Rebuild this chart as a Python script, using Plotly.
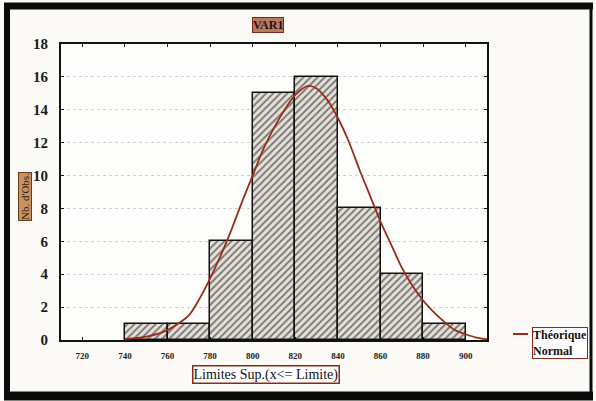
import plotly.graph_objects as go

# ---- data ----
bin_centers = [750, 770, 790, 810, 830, 850, 870, 890]
counts = [1, 1, 6, 15, 16, 8, 4, 1]
bin_width = 20

curve_x = [740, 750, 760, 770, 775, 780, 785, 790, 795, 800, 805, 810, 815, 820, 826,
           830, 835, 840, 845, 850, 855, 860, 865, 870, 875, 880, 885, 890, 895, 900, 905, 910]
curve_y = [0.05, 0.2, 0.6, 1.5, 2.5, 3.75, 5.15, 6.7, 8.4, 10.0, 11.6, 12.9, 14.0, 14.9, 15.45,
           15.3, 14.6, 13.5, 12.1, 10.4, 8.8, 7.2, 5.8, 4.4, 3.3, 2.4, 1.7, 1.1, 0.6, 0.35, 0.15, 0.05]

x_ticks = [720, 740, 760, 780, 800, 820, 840, 860, 880, 900]
y_ticks = [0, 2, 4, 6, 8, 10, 12, 14, 16, 18]

curve_color = "#9a2c1c"
serif = "Liberation Serif"

fig = go.Figure()
fig.add_trace(go.Bar(
    x=bin_centers, y=counts, width=bin_width,
    marker=dict(color="#e4e0d8",
                line=dict(color="#111111", width=1.5),
                pattern=dict(shape="/", fgcolor="#111111", bgcolor="#e6e2da",
                             size=5, solidity=0.4)),
    showlegend=False, hoverinfo="skip"))
fig.add_trace(go.Scatter(
    x=curve_x, y=curve_y, mode="lines",
    line=dict(color=curve_color, width=1.8, shape="spline", smoothing=0.8),
    showlegend=False, hoverinfo="skip"))

L, R, T, B = 61, 109, 44, 61
W, H = 596, 401
pw, ph = W - L - R, H - T - B

def px(xp):
    return (xp - L) / pw

def py(yp):
    return (H - B - yp) / ph

def hline(x0, x1, y, w, color="#0a0a0a"):
    return dict(type="line", xref="paper", yref="paper",
                x0=px(x0), x1=px(x1), y0=py(y), y1=py(y),
                line=dict(color=color, width=w), layer="above")

def vline(x, y0, y1, w, color="#0a0a0a"):
    return dict(type="line", xref="paper", yref="paper",
                x0=px(x), x1=px(x), y0=py(y0), y1=py(y1),
                line=dict(color=color, width=w), layer="above")

fig.update_layout(
    width=W, height=H,
    margin=dict(l=L, r=R, t=T, b=B),
    paper_bgcolor="#fbfaf7", plot_bgcolor="#fdfdfb",
    bargap=0,
    font=dict(family=serif, color="#111111"),
    xaxis=dict(range=[710, 910], tickvals=x_ticks, ticktext=[str(v) for v in x_ticks],
               ticks="inside", ticklen=3, tickcolor="#111111", mirror="ticks",
               showline=True, linecolor="#111111", linewidth=2,
               showgrid=False, zeroline=False,
               tickfont=dict(family=serif, size=9, color="#222222", weight="bold"),
               ticklabelstandoff=6),
    yaxis=dict(range=[0, 18], tickvals=y_ticks,
               ticks="inside", ticklen=3, tickcolor="#111111", mirror="ticks",
               showline=True, linecolor="#111111", linewidth=2,
               showgrid=True, gridcolor="#cfcfcf", griddash="dot", gridwidth=1,
               zeroline=False,
               tickfont=dict(family=serif, size=15, color="#1a1a1a", weight="bold"),
               ticklabelstandoff=8),
    shapes=[
        hline(4, 593, 6, 7),
        hline(4, 593, 396, 9),
        vline(7, 3, 400, 6),
        vline(591, 3, 400, 3),
        dict(type="line", xref="paper", yref="paper",
             x0=px(513), x1=px(528), y0=py(334), y1=py(334),
             line=dict(color=curve_color, width=2)),
    ],
    annotations=[
        dict(text="<b>VAR1</b>", xref="paper", yref="paper", x=px(268), y=py(25),
             xanchor="center", yanchor="middle",
             showarrow=False, font=dict(family=serif, size=12, color="#2a1410"),
             bgcolor="#b97a62", bordercolor="#7a2a1a", borderwidth=1, borderpad=0),
        dict(text="Nb. d'Obs.", xref="paper", yref="paper", x=px(25), y=py(197),
             xanchor="center", yanchor="middle",
             textangle=-90, showarrow=False,
             font=dict(family=serif, size=11, color="#2a1a10"),
             bgcolor="#c9925e", bordercolor="#6a3a1a", borderwidth=1, borderpad=0),
        dict(text="Limites Sup.(x<= Limite)", xref="paper", yref="paper",
             x=px(266), y=py(374), xanchor="center", yanchor="middle", showarrow=False,
             font=dict(family=serif, size=14, color="#111111"),
             bgcolor="#ffffff", bordercolor="#8a2a1a", borderwidth=1.5, borderpad=0),
        dict(text="Théorique<br>Normal", xref="paper", yref="paper",
             x=px(560), y=py(343), xanchor="center", yanchor="middle",
             align="left", showarrow=False,
             font=dict(family=serif, size=12, color="#111111", weight="bold"),
             bgcolor="#ffffff", bordercolor="#8a2a1a", borderwidth=1, borderpad=0),
    ],
)

fig.write_html("out.html", config={"displayModeBar": False},
               post_script="document.body.style.margin='0';")
